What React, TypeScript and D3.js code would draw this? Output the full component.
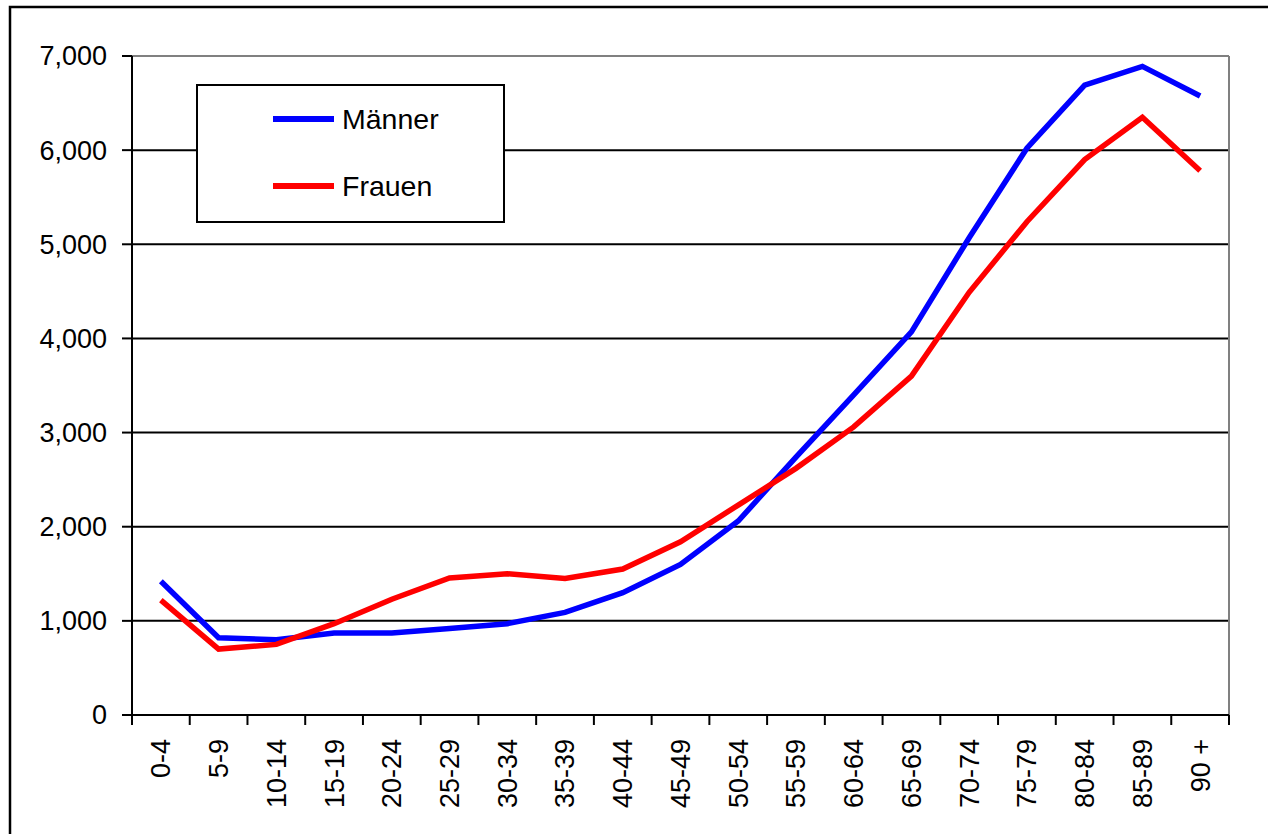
import React from "react";
import * as d3 from "d3";

const categories = ["0-4","5-9","10-14","15-19","20-24","25-29","30-34","35-39","40-44","45-49","50-54","55-59","60-64","65-69","70-74","75-79","80-84","85-89","90 +"];
const maenner = [1420, 820, 800, 870, 870, 920, 970, 1090, 1300, 1600, 2060, 2740, 3400, 4070, 5070, 6020, 6690, 6890, 6575];
const frauen = [1220, 700, 750, 970, 1230, 1455, 1500, 1450, 1550, 1840, 2230, 2620, 3060, 3600, 4490, 5240, 5900, 6350, 5780];
const yTicks = [0, 1000, 2000, 3000, 4000, 5000, 6000, 7000];
const seriesNames = ["Männer", "Frauen"];
const seriesColors = ["#0000ff", "#ff0000"];

const W = 1268, H = 834;
const L = 132, R = 1229, T = 56, B = 715;

export default function App() {
  const x = d3.scaleBand<string>().domain(categories).range([L, R]).padding(0);
  const y = d3.scaleLinear().domain([0, 7000]).range([B, T]);
  const line = d3.line<number>()
    .x((_, i) => (x(categories[i]) as number) + x.bandwidth() / 2)
    .y((d) => y(d));
  const font = "Liberation Sans, Arial, sans-serif";
  const series = [maenner, frauen];
  const fmt = d3.format(",");
  return (
    <svg width={W} height={H} style={{ position: "absolute", left: 0, top: 0, display: "block", background: "#fff" }} fontFamily={font}>
      <rect x={0} y={0} width={W} height={H} fill="#fff" />
      {/* outer frame */}
      <rect x={10} y={7} width={W + 20} height={H + 20} fill="none" stroke="#000" strokeWidth={2.5} />
      {/* gridlines */}
      {yTicks.filter((t) => t > 0 && t < 7000).map((t) => (
        <line key={t} x1={L} x2={R} y1={y(t)} y2={y(t)} stroke="#000" strokeWidth={2} />
      ))}
      {/* plot area top / right border gray */}
      <line x1={L} x2={R} y1={y(7000)} y2={y(7000)} stroke="#808080" strokeWidth={2} />
      <line x1={R} x2={R} y1={T} y2={B} stroke="#808080" strokeWidth={2} />
      {/* axes */}
      <line x1={L} x2={L} y1={T} y2={B} stroke="#000" strokeWidth={2} />
      <line x1={L} x2={R} y1={B} y2={B} stroke="#000" strokeWidth={2} />
      {yTicks.map((t) => (
        <g key={t}>
          <line x1={L - 10} x2={L} y1={y(t)} y2={y(t)} stroke="#000" strokeWidth={2} />
          <text x={107} y={y(t)} dy="0.35em" textAnchor="end" fontSize={27} fill="#000">{fmt(t)}</text>
        </g>
      ))}
      {categories.map((c) => (
        <line key={"t" + c} x1={x(c) as number} x2={x(c) as number} y1={B} y2={B + 10} stroke="#000" strokeWidth={2} />
      ))}
      <line x1={R} x2={R} y1={B} y2={B + 10} stroke="#000" strokeWidth={2} />
      {categories.map((c) => {
        const cx = (x(c) as number) + x.bandwidth() / 2;
        return (
          <text key={"l" + c} transform={`translate(${cx},${739}) rotate(-90)`} dy="0.35em" textAnchor="end" fontSize={27} fill="#000">{c}</text>
        );
      })}
      {series.map((s, i) => (
        <path key={i} d={line(s) as string} fill="none" stroke={seriesColors[i]} strokeWidth={5.5} strokeLinejoin="miter" />
      ))}
      {/* legend */}
      <rect x={197} y={85} width={307} height={137} fill="#fff" stroke="#000" strokeWidth={2} />
      {seriesNames.map((n, i) => {
        const ly = 119 + i * 67;
        return (
          <g key={n}>
            <line x1={273} x2={334} y1={ly} y2={ly} stroke={seriesColors[i]} strokeWidth={6} />
            <text x={342} y={ly} dy="0.35em" fontSize={28.5} fill="#000">{n}</text>
          </g>
        );
      })}
    </svg>
  );
}
